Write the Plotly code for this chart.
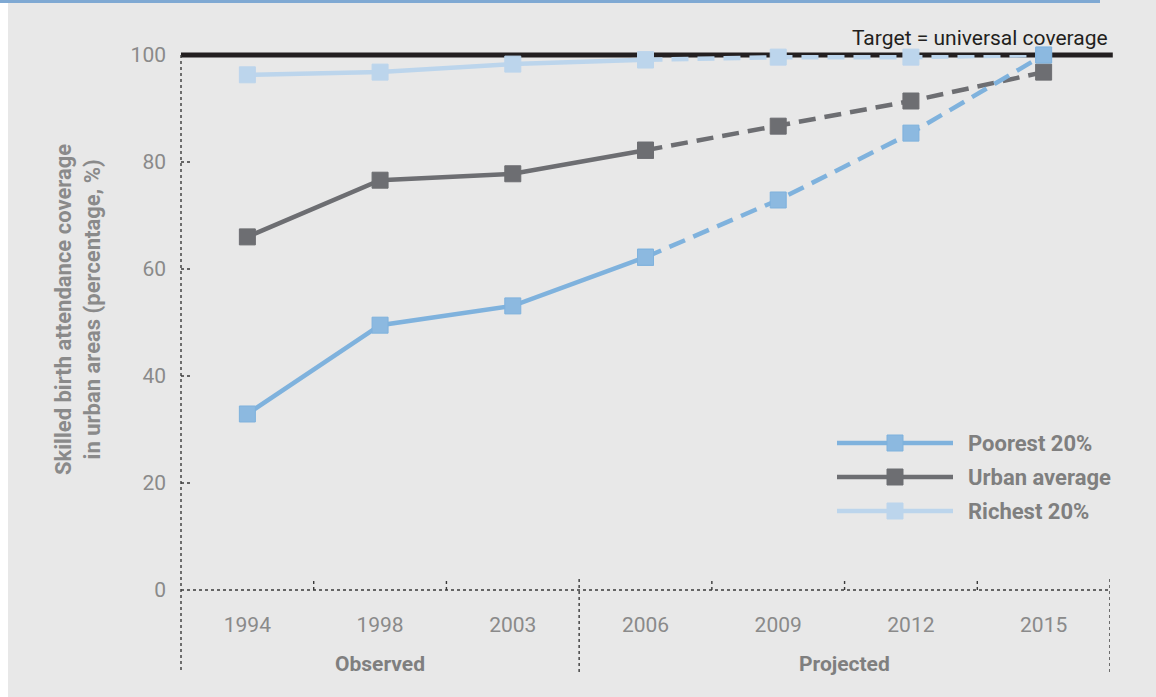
import plotly.graph_objects as go

years = ["1994", "1998", "2003", "2006", "2009", "2012", "2015"]
n_observed = 4  # 1994-2006 observed, 2006-2015 projected

series_names = ["Poorest 20%", "Urban average", "Richest 20%"]
poorest = [32.9, 49.5, 53.1, 62.2, 72.9, 85.4, 100.0]
urban = [66.0, 76.6, 77.8, 82.2, 86.7, 91.4, 96.8]
richest = [96.3, 96.8, 98.3, 99.1, 99.6, 99.6, 100.0]
target = 100
y_ticks = [0, 20, 40, 60, 80, 100]

line_colors = ["#7fb2dd", "#6d6e72", "#bcd5ec"]
marker_colors = ["#8cb9e0", "#6d6e72", "#bcd5ec"]

W, H = 1156, 697
L, R, T, B = 181, 46, 55, 107
pw, ph = W - L - R, H - T - B
y_max = 100


def px(x):
    return (x - L) / pw


def py(y):
    return (H - B - y) / ph


FONT = "Roboto, Open Sans, sans-serif"
GREY = "#8a8a8a"
DOT = dict(color="#3a3a3a", width=1.4, dash="dot")

fig = go.Figure()
xs = list(range(len(years)))
all_series = [poorest, urban, richest]

# draw richest first so poorest sits on top
for i in [2, 1, 0]:
    vals = all_series[i]
    fig.add_trace(go.Scatter(
        x=xs[:n_observed], y=vals[:n_observed], mode="lines+markers",
        line=dict(color=line_colors[i], width=4.5),
        marker=dict(symbol="square", size=16, color=marker_colors[i],
                    line=dict(color=line_colors[i], width=1)),
        cliponaxis=False, showlegend=False, name=series_names[i]))
    fig.add_trace(go.Scatter(
        x=xs[n_observed - 1:], y=vals[n_observed - 1:], mode="lines+markers",
        line=dict(color=line_colors[i], width=4.5, dash="17px,9px"),
        marker=dict(symbol="square", size=16, color=marker_colors[i],
                    line=dict(color=line_colors[i], width=1)),
        cliponaxis=False, showlegend=False, name=series_names[i]))

shapes = []
# background decorations
shapes.append(dict(type="rect", xref="paper", yref="paper", x0=px(-5), x1=px(8),
                   y0=py(H + 5), y1=py(-5), fillcolor="white", line_width=0))
shapes.append(dict(type="rect", xref="paper", yref="paper", x0=px(-5), x1=px(1100),
                   y0=py(3), y1=py(-5), fillcolor="#7fa9d3", line_width=0))
# target line (paper refs so it is not clipped at the top of the plot area)
shapes.append(dict(type="line", xref="paper", yref="paper", x0=0, x1=1.003,
                   y0=target / y_max, y1=target / y_max,
                   line=dict(color="#231f20", width=5), layer="below"))
# axes
shapes.append(dict(type="line", xref="paper", yref="paper", x0=0, x1=0, y0=py(670), y1=1, line=DOT))
shapes.append(dict(type="line", xref="paper", yref="paper", x0=0, x1=1, y0=0, y1=0, line=DOT))
for b in [0.5, 1.5, 3.5, 4.5, 5.5]:
    shapes.append(dict(type="line", xref="x", yref="paper", x0=b, x1=b, y0=0, y1=py(578), line=DOT))
for b in [n_observed - 1.5, len(years) - 0.5]:
    shapes.append(dict(type="line", xref="x", yref="paper", x0=b, x1=b, y0=py(672), y1=py(578), line=DOT))
for t in y_ticks[1:-1]:
    shapes.append(dict(type="line", xref="paper", yref="y", x0=0, x1=px(191), y0=t, y1=t, line=DOT))

annotations = [
    dict(text="Target = universal coverage", xref="paper", yref="y", x=1, y=target,
         xanchor="right", yanchor="bottom", yshift=3, showarrow=False,
         font=dict(family=FONT, size=21, color="#231f20")),
    dict(text="<b>Observed</b>", xref="x", yref="paper", x=(n_observed - 2) / 2, y=py(664),
         yanchor="middle", showarrow=False, font=dict(family=FONT, size=21, color="#7f7f7f")),
    dict(text="<b>Projected</b>", xref="x", yref="paper", x=(n_observed - 1.5 + len(years) - 0.5) / 2,
         y=py(664), yanchor="middle", showarrow=False,
         font=dict(family=FONT, size=21, color="#7f7f7f")),
    dict(text="<b>Skilled birth attendance coverage<br>in urban areas (percentage, %)</b>",
         xref="paper", yref="paper", x=px(78), y=py(310), xanchor="center", yanchor="middle",
         textangle=-90, showarrow=False,
         font=dict(family=FONT, size=22, color=GREY)),
]

# manual legend with long line samples
for k, name in enumerate(series_names):
    yy = py(443 + 34 * k)
    shapes.append(dict(type="line", xref="paper", yref="paper", x0=px(837), x1=px(953),
                       y0=yy, y1=yy, line=dict(color=line_colors[k], width=4.5)))
    shapes.append(dict(type="rect", xref="paper", yref="paper", x0=px(887), x1=px(903),
                       y0=yy - 8 / ph, y1=yy + 8 / ph, fillcolor=marker_colors[k],
                       line=dict(color=line_colors[k], width=1)))
    annotations.append(dict(text="<b>%s</b>" % name, xref="paper", yref="paper", x=px(966), y=yy,
                            xanchor="left", yanchor="middle", showarrow=False,
                            font=dict(family=FONT, size=22, color="#7f7f7f")))

fig.update_layout(
    width=W, height=H, margin=dict(l=L, r=R, t=T, b=B),
    paper_bgcolor="#e8e8e8", plot_bgcolor="rgba(0,0,0,0)",
    font=dict(family=FONT, size=21, color=GREY),
    shapes=shapes, annotations=annotations, showlegend=False,
)
fig.update_xaxes(range=[-0.5, len(years) - 0.5], tickvals=xs, ticktext=years,
                 showgrid=False, zeroline=False, showline=False, ticks="",
                 ticklabelstandoff=20, tickfont=dict(size=21, color=GREY))
fig.update_yaxes(range=[0, y_max], tickvals=y_ticks, showgrid=False, zeroline=False,
                 showline=False, ticks="", ticklabelstandoff=14,
                 tickfont=dict(size=21, color=GREY))

fig.write_html("out.html", config={"displayModeBar": False},
               post_script="document.body.style.margin='0';document.body.style.overflow='hidden';")
